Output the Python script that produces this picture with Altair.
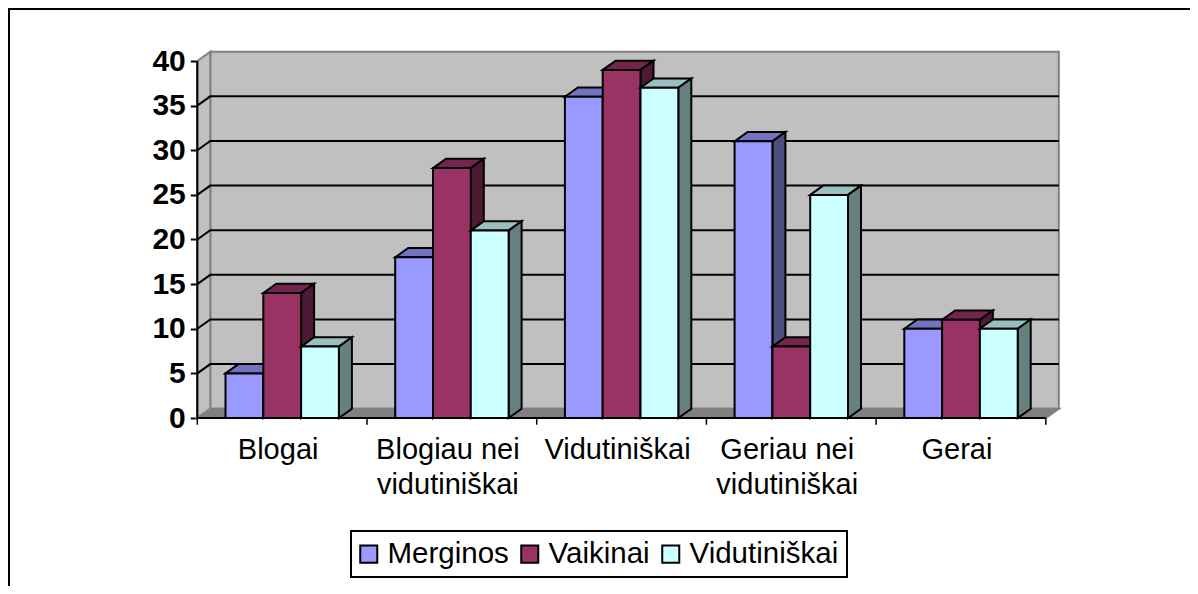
import altair as alt
import pandas as pd

categories = ["Blogai", "Blogiau nei\nvidutiniškai", "Vidutiniškai", "Geriau nei\nvidutiniškai", "Gerai"]
series_names = ["Merginos", "Vaikinai", "Vidutiniškai"]
merginos = [5, 18, 36, 31, 10]
vaikinai = [14, 28, 39, 8, 11]
vidutiniskai = [8, 21, 37, 25, 10]
front_colors = ["#9999FF", "#993366", "#CCFFFF"]
top_colors = ["#7373BF", "#73264D", "#99BFBF"]
side_colors = ["#4D4D80", "#4D1933", "#668080"]
y_ticks = [0, 5, 10, 15, 20, 25, 30, 35, 40]

W, H = 1182, 578
PX_C = 169.7
PX_V = 8.925
X0, Y0 = 189.3, 410.0
x_scale = alt.Scale(domain=[-X0 / PX_C, (W - X0) / PX_C], nice=False, zero=False)
y_scale = alt.Scale(domain=[(Y0 - H) / PX_V, Y0 / PX_V], nice=False, zero=False)
DX = 13 / PX_C
DY = 9.3 / PX_V
BAR_W = 37.8 / PX_C
GAP = 28.2 / PX_C
N = len(categories)
FONT = "Liberation Sans"

y_axis = alt.Axis(
    values=y_ticks, orient="left", offset=-X0, domain=False, grid=False,
    tickColor="black", tickWidth=2, tickSize=7, labelPadding=5,
    labelFont=FONT, labelFontSize=30, labelFontWeight="bold", labelColor="black",
    labelBaseline="middle",
)


def X(f="x", **kw):
    return alt.X(f"{f}:Q", scale=x_scale, axis=None, title=None, **kw)


def Y(f="y"):
    return alt.Y(f"{f}:Q", scale=y_scale, axis=y_axis, title=None, stack=None)


def area_layer(rows, fill, stroke="black", sw=2):
    return alt.Chart(pd.DataFrame(rows)).mark_area(
        fill=fill, stroke=stroke, strokeWidth=sw, orient="vertical", interpolate="linear",
        strokeJoin="miter", opacity=1,
    ).encode(x=X(), y=Y(), y2=alt.Y2("y2:Q"), detail="id:N")


def pts(id_, *triples):
    return [{"id": id_, "x": a, "y": b, "y2": c} for a, b, c in triples]


layers = []

# back wall, left wall, floor
layers.append(area_layer(pts("back", (DX, 40 + DY, DY), (N + DX, 40 + DY, DY)), "#C0C0C0", "#808080"))
layers.append(area_layer(pts("left", (0, 40, 0), (DX, 40 + DY, DY)), "#C0C0C0", "#808080"))
layers.append(area_layer(pts("floor", (0, 0, 0), (DX, DY, 0), (N, DY, 0), (N + DX, DY, DY)), "#808080", "#808080"))

# gridlines, on the back wall and running across the left wall
grid_rows = []
for v in y_ticks[1:-1]:
    grid_rows += [
        {"id": v, "seq": 0, "x": 0, "y": v},
        {"id": v, "seq": 1, "x": DX, "y": v + DY},
        {"id": v, "seq": 2, "x": N + DX, "y": v + DY},
    ]
layers.append(
    alt.Chart(pd.DataFrame(grid_rows)).mark_line(color="black", strokeWidth=2).encode(
        x=X(), y=Y(), detail="id:N", order=alt.Order("seq:Q")
    )
)

# axis lines
axis_rows = [
    {"id": "v", "seq": 0, "x": 0, "y": 40},
    {"id": "v", "seq": 1, "x": 0, "y": 0},
    {"id": "v", "seq": 2, "x": N, "y": 0},
]
axis_layer = alt.Chart(pd.DataFrame(axis_rows)).mark_line(color="black", strokeWidth=2).encode(
    x=X(), y=Y(), detail="id:N", order=alt.Order("seq:Q")
)

# category ticks
tick_df = pd.DataFrame({"x": list(range(N + 1)), "y": [0.0] * (N + 1), "y2": [-0.75] * (N + 1)})
tick_layer = alt.Chart(tick_df).mark_rule(color="black", strokeWidth=1.5).encode(
    x=X(), y=Y(), y2=alt.Y2("y2:Q")
)

# bars: series by series so later fronts cover earlier sides
all_values = [merginos, vaikinai, vidutiniskai]
legend = alt.Legend(
    orient="none", legendX=343, legendY=523, title=None, direction="horizontal", columns=3,
    symbolType="square", symbolSize=290, symbolStrokeColor="black", symbolStrokeWidth=2,
    labelFont=FONT, labelFontSize=29.5, labelColor="black", labelLimit=300, labelOffset=4,
    strokeColor="black", fillColor="white", padding=8, columnPadding=8, symbolOpacity=1,
    symbolOffset=-5,
)
color_scale = alt.Scale(domain=series_names, range=front_colors)
for s, vals in enumerate(all_values):
    top_rows, side_rows, front_rows = [], [], []
    for c, v in enumerate(vals):
        x0 = c + GAP + s * BAR_W
        x1 = x0 + BAR_W
        top_rows += pts(c, (x0, v, v), (x0 + DX, v + DY, v), (x1, v + DY, v), (x1 + DX, v + DY, v + DY))
        side_rows += pts(c, (x1, v, 0), (x1 + DX, v + DY, DY))
        front_rows.append({"x": x0, "x2": x1, "y": v, "y2": 0, "series": series_names[s]})
    layers.append(area_layer(top_rows, top_colors[s]))
    layers.append(area_layer(side_rows, side_colors[s]))
    layers.append(
        alt.Chart(pd.DataFrame(front_rows)).mark_bar(stroke="black", strokeWidth=2, opacity=1).encode(
            x=X(), x2=alt.X2("x2:Q"), y=Y(), y2=alt.Y2("y2:Q"),
            color=alt.Color("series:N", scale=color_scale, legend=legend if s == 0 else None),
        )
    )

layers.append(axis_layer)
layers.append(tick_layer)

# category labels
label_df = pd.DataFrame({"x": [c + 0.5 for c in range(N)], "y": [-4.55] * N, "label": categories})
layers.append(
    alt.Chart(label_df).mark_text(
        font=FONT, fontSize=29, color="black", align="center", baseline="alphabetic",
        lineBreak="\n", lineHeight=35, dx=-4,
    ).encode(x=X(), y=Y(), text="label:N")
)

# outer frame
layers.append(
    alt.Chart(pd.DataFrame({"a": [0]})).mark_rule(color="black", strokeWidth=4).encode(
        x=alt.value(0), y=alt.value(0), y2=alt.value(H)
    )
)
layers.append(
    alt.Chart(pd.DataFrame({"a": [0]})).mark_rule(color="black", strokeWidth=4).encode(
        x=alt.value(0), x2=alt.value(W), y=alt.value(0)
    )
)

chart = (
    alt.layer(*layers)
    .properties(width=W, height=H, padding=0, autosize=alt.AutoSizeParams(type="none"), background="white")
    .configure_view(stroke=None)
    .configure_legend(strokeWidth=2)
)
chart.save("out.html", embed_options={"renderer": "svg", "actions": False})
